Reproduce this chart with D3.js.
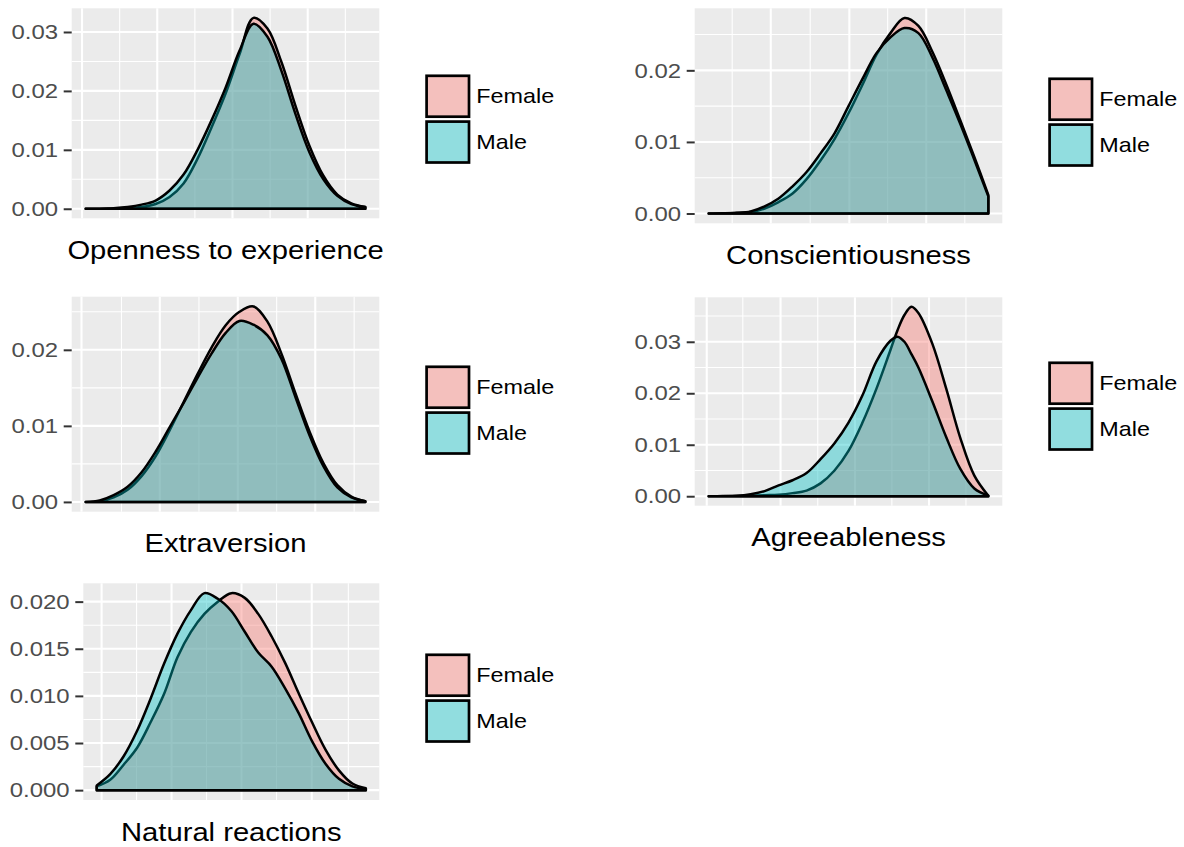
<!DOCTYPE html>
<html>
<head>
<meta charset="utf-8">
<script src="https://cdn.jsdelivr.net/npm/d3@7"></script>
<style>
  body { margin: 0; background: #ffffff; }
  text { font-family: "Liberation Sans", Arial, Helvetica, sans-serif; }
</style>
</head>
<body>
<svg id="chart" width="1184" height="847"></svg>
<script>
// ---------------- data ----------------
const traits = ["Openness to experience", "Conscientiousness", "Extraversion", "Agreeableness", "Natural reactions"];
const groups = ["Female", "Male"];
const groupColors = ["#F8766D", "#00BFC4"];

// score positions (x) at which densities were read
const scoreGrid = [0, 5, 10, 15, 20, 25, 30, 35, 40, 45, 50, 55, 60, 65, 70, 75, 80, 85, 90, 95, 100];
const agreeGrid = [0, 5, 10, 15, 20, 25, 30, 35, 40, 45, 50, 55, 60, 65, 67.5, 70, 72.5, 75, 80, 85, 90, 95, 100];

const opennessFemale = [0, 0.00001, 0.00005, 0.0001, 0.0003, 0.0008, 0.0020, 0.0043, 0.0085, 0.0138, 0.0195, 0.0262, 0.0324, 0.0306, 0.0249, 0.0175, 0.0107, 0.0056, 0.0024, 0.0009, 0.0003];
const opennessMale   = [0, 0.00002, 0.0001, 0.0003, 0.0007, 0.0014, 0.0031, 0.0058, 0.0100, 0.0150, 0.0205, 0.0268, 0.0314, 0.0292, 0.0234, 0.0161, 0.0096, 0.0050, 0.0022, 0.0008, 0.0003];

const conscFemale = [0, 0.00002, 0.00008, 0.0002, 0.0007, 0.0016, 0.0028, 0.0048, 0.0074, 0.0104, 0.0140, 0.0180, 0.0222, 0.0252, 0.0273, 0.0262, 0.0226, 0.0180, 0.0130, 0.0079, 0.0026];
const conscMale   = [0, 0.00003, 0.0001, 0.0003, 0.0010, 0.0021, 0.0038, 0.0058, 0.0084, 0.0112, 0.0150, 0.0188, 0.0224, 0.0246, 0.0259, 0.0252, 0.0218, 0.0172, 0.0125, 0.0075, 0.0024];

const extraFemale = [0, 0.0001, 0.0006, 0.0016, 0.0034, 0.0060, 0.0094, 0.0131, 0.0168, 0.0203, 0.0232, 0.0250, 0.0257, 0.0237, 0.0195, 0.0143, 0.0093, 0.0051, 0.0022, 0.0007, 0.0001];
const extraMale   = [0, 0.0002, 0.0009, 0.0020, 0.0039, 0.0066, 0.0098, 0.0130, 0.0163, 0.0195, 0.0222, 0.0238, 0.0233, 0.0219, 0.0188, 0.0138, 0.0088, 0.0047, 0.0019, 0.0006, 0.0001];

const agreeFemale = [0, 0.00001, 0.00003, 0.0001, 0.0002, 0.0003, 0.0006, 0.0011, 0.0025, 0.0050, 0.0088, 0.0143, 0.0209, 0.0284, 0.0322, 0.0352, 0.0368, 0.0356, 0.0296, 0.0208, 0.0113, 0.0040, 0.0001];
const agreeMale   = [0, 0.00003, 0.0001, 0.0004, 0.0010, 0.0021, 0.0031, 0.0045, 0.0072, 0.0103, 0.0143, 0.0196, 0.0262, 0.0302, 0.0310, 0.0300, 0.0276, 0.0250, 0.0184, 0.0114, 0.0053, 0.0015, 0.0001];

const naturalFemale = [0.0004, 0.0011, 0.0027, 0.0045, 0.0072, 0.0102, 0.0141, 0.0168, 0.0187, 0.0200, 0.0209, 0.0204, 0.0187, 0.0163, 0.0135, 0.0103, 0.0072, 0.0043, 0.0021, 0.0007, 0.0002];
const naturalMale   = [0.0005, 0.0017, 0.0036, 0.0063, 0.0097, 0.0134, 0.0166, 0.0191, 0.0209, 0.0203, 0.0190, 0.0168, 0.0146, 0.0131, 0.0108, 0.0082, 0.0052, 0.0028, 0.0012, 0.0004, 0.0001];

// y tick values per panel
const ticksTo03 = [0, 0.01, 0.02, 0.03];
const ticksTo02 = [0, 0.01, 0.02];
const ticksTo020 = [0, 0.005, 0.010, 0.015, 0.020];

// vertical grid line positions (score units)
const opennessGridX = [-1.3, 12.15, 25.6, 39.05, 52.5, 65.95, 79.4, 92.85];
const conscGridX    = [8.4, 22.2, 36.3, 50.3, 64.0, 77.8, 91.6];
const extraGridX    = [-1.5, 12.8, 26.5, 40.5, 54.4, 68.3, 82.1, 96.0];
const agreeGridX    = [-0.7, 12.2, 25.7, 39.0, 52.3, 65.5, 78.8, 92.0];
const naturalGridX  = [1.8, 14.8, 27.8, 40.8, 53.8, 66.8, 79.9, 93.5];

// ---------------- layout ----------------
const panels = [
  { title: traits[0], grid: scoreGrid, series: [opennessFemale, opennessMale], yTicks: ticksTo03, fmt: ".2f", gridX: opennessGridX, firstMajor: true,
    x0: 71.7, x1: 379.3, y0: 8.3, y1: 218.3, legendTop: 74.5 },
  { title: traits[1], grid: scoreGrid, series: [conscFemale, conscMale], yTicks: ticksTo02, fmt: ".2f", gridX: conscGridX, firstMajor: false,
    x0: 694.7, x1: 1002.3, y0: 8.3, y1: 223.3, legendTop: 77.5 },
  { title: traits[2], grid: scoreGrid, series: [extraFemale, extraMale], yTicks: ticksTo02, fmt: ".2f", gridX: extraGridX, firstMajor: true,
    x0: 71.7, x1: 379.3, y0: 296.7, y1: 511.7, legendTop: 365.5 },
  { title: traits[3], grid: agreeGrid, series: [agreeFemale, agreeMale], yTicks: ticksTo03, fmt: ".2f", gridX: agreeGridX, firstMajor: true,
    x0: 694.7, x1: 1002.3, y0: 297.3, y1: 505.7, legendTop: 361.5 },
  { title: traits[4], grid: scoreGrid, series: [naturalFemale, naturalMale], yTicks: ticksTo020, fmt: ".3f", gridX: naturalGridX, firstMajor: true,
    x0: 83.3, x1: 379.3, y0: 583.3, y1: 800, legendTop: 653.5 }
];

const STRETCH = 1.14;
const svg = d3.select("#chart");

panels.forEach(p => {
  const g = svg.append("g");
  const x = d3.scaleLinear().domain([-5, 105]).range([p.x0, p.x1]);
  const M = d3.max(p.series.flat());
  const y = d3.scaleLinear().domain([-0.05 * M, 1.05 * M]).range([p.y1, p.y0]);

  // panel background
  g.append("rect").attr("x", p.x0).attr("y", p.y0)
    .attr("width", p.x1 - p.x0).attr("height", p.y1 - p.y0).attr("fill", "#EBEBEB");

  // horizontal grid lines
  const step = p.yTicks[1] - p.yTicks[0];
  const minorY = p.yTicks.map(t => t + step / 2).filter(v => v < 1.05 * M);
  g.selectAll(".ymin").data(minorY).enter().append("line")
    .attr("x1", p.x0).attr("x2", p.x1).attr("y1", d => y(d)).attr("y2", d => y(d))
    .attr("stroke", "#fff").attr("stroke-width", 1.1);
  g.selectAll(".ymaj").data(p.yTicks).enter().append("line")
    .attr("x1", p.x0).attr("x2", p.x1).attr("y1", d => y(d)).attr("y2", d => y(d))
    .attr("stroke", "#fff").attr("stroke-width", 2.1);

  // vertical grid lines (alternating major / minor)
  g.selectAll(".xg").data(p.gridX).enter().append("line")
    .attr("x1", d => x(d)).attr("x2", d => x(d)).attr("y1", p.y0).attr("y2", p.y1)
    .attr("stroke", "#fff")
    .attr("stroke-width", (d, i) => ((i % 2 === 0) === p.firstMajor) ? 2.1 : 1.1);

  // density areas
  const area = d3.area()
    .x((d, i) => x(p.grid[i]))
    .y0(y(0))
    .y1(d => y(d))
    .curve(d3.curveCatmullRom.alpha(0.5));
  p.series.forEach((s, k) => {
    g.append("path").datum(s).attr("d", area)
      .attr("fill", groupColors[k]).attr("fill-opacity", 0.4)
      .attr("stroke", "#000").attr("stroke-width", 2.5).attr("stroke-linejoin", "round");
  });

  // y axis
  const axis = d3.axisLeft(y).tickValues(p.yTicks).tickFormat(d3.format(p.fmt))
    .tickSize(8).tickPadding(4);
  const ag = g.append("g").attr("transform", `translate(${p.x0},0)`).call(axis);
  ag.select(".domain").remove();
  ag.selectAll(".tick line").attr("stroke", "#333333").attr("stroke-width", 2);
  ag.selectAll(".tick text")
    .attr("fill", "#4D4D4D").style("font-size", "21px")
    .attr("transform", `scale(${STRETCH},1)`);

  // title
  const cx = (p.x0 + p.x1) / 2;
  g.append("text").text(p.title)
    .attr("transform", `translate(${cx},${p.y1 + 40.5}) scale(${STRETCH},1)`)
    .attr("text-anchor", "middle").style("font-size", "25.6px").attr("fill", "#000");

  // legend
  const lx = p.x1 + 46;
  const keyW = 45, keyH = 43.5, pitch = 45.8;
  groups.forEach((name, k) => {
    const ky = p.legendTop + k * pitch;
    g.append("rect").attr("x", lx).attr("y", ky).attr("width", keyW).attr("height", keyH)
      .attr("fill", "#F2F2F2");
    g.append("rect").attr("x", lx + 1.3).attr("y", ky + 1.3).attr("width", keyW - 2.6).attr("height", keyH - 2.6)
      .attr("fill", groupColors[k]).attr("fill-opacity", 0.4)
      .attr("stroke", "#000").attr("stroke-width", 2.7);
    g.append("text").text(name)
      .attr("transform", `translate(${lx + 51},${ky + keyH / 2}) scale(${STRETCH},1)`)
      .attr("dy", "0.35em").style("font-size", "20.5px").attr("fill", "#000");
  });
});
</script>
</body>
</html>
